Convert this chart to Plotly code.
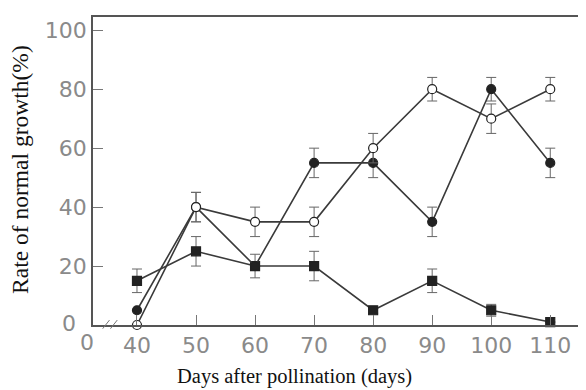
import plotly.graph_objects as go

days = [40, 50, 60, 70, 80, 90, 100, 110]
filled_circle = [5, 40, 20, 55, 55, 35, 80, 55]
filled_circle_err = [0, 5, 4, 5, 5, 5, 4, 5]
open_circle = [0, 40, 35, 35, 60, 80, 70, 80]
open_circle_err = [0, 5, 5, 5, 5, 4, 5, 4]
filled_square = [15, 25, 20, 20, 5, 15, 5, 1]
filled_square_err = [4, 5, 0, 5, 1, 4, 2, 0]

y_ticks = [0, 20, 40, 60, 80, 100]
y_tick_text = ["", "20", "40", "60", "80", "100"]
x_ticks = [40, 50, 60, 70, 80, 90, 100, 110]

line_col = "#3a3a3a"
err_col = "#666666"

fig = go.Figure()

def add(y, err, symbol, fill):
    fig.add_trace(go.Scatter(
        x=days, y=y, mode="lines+markers",
        line=dict(color=line_col, width=1.6),
        marker=dict(symbol=symbol, size=9, color=fill,
                    line=dict(color="#222222", width=1.2)),
        error_y=dict(type="data", array=err, visible=True,
                     color=err_col, thickness=1, width=5),
        showlegend=False, cliponaxis=False))

add(filled_square, filled_square_err, "square", "#222222")
add(filled_circle, filled_circle_err, "circle", "#222222")
add(open_circle, open_circle_err, "circle", "white")

tickfont = dict(family="DejaVu Sans", size=22, color="#8a8a8a")
xtitle_font = dict(family="Liberation Serif", size=20.5, color="#111111")
ytitle_font = dict(family="Liberation Serif", size=23.5, color="#111111")

# page body adds an 8px offset, so the figure is 8px smaller
fig.update_layout(
    width=578, height=382,
    margin=dict(l=85, r=8, t=9, b=65, autoexpand=False),
    paper_bgcolor="white", plot_bgcolor="white",
    xaxis=dict(range=[32.55, 114.7], tickvals=x_ticks,
               ticktext=[str(v) for v in x_ticks],
               ticks="inside", ticklen=10, tickcolor="#777777",
               showline=True, linecolor="#555555", linewidth=1.5,
               mirror=True, showgrid=False, zeroline=False,
               tickfont=tickfont, automargin=False),
    yaxis=dict(range=[0, 104.5], tickvals=y_ticks, ticktext=y_tick_text,
               ticks="inside", ticklen=10, tickcolor="#777777",
               showline=True, linecolor="#555555", linewidth=1.5,
               mirror=True, showgrid=False, zeroline=False,
               tickfont=tickfont, automargin=False),
)

fig.add_annotation(xref="paper", yref="paper", x=0.415, y=-0.166,
                   text="Days after pollination (days)", showarrow=False,
                   font=xtitle_font, xanchor="center", yanchor="middle")
fig.add_annotation(xref="paper", yref="paper", x=-0.151, y=0.506,
                   text="Rate of normal growth(%)", showarrow=False,
                   font=ytitle_font, textangle=-90,
                   xanchor="center", yanchor="middle")

# y-axis "0" label, set a little left of the other labels
fig.add_annotation(xref="paper", yref="paper", x=-0.0495, y=0.005,
                   xanchor="center", yanchor="middle",
                   text="0", showarrow=False, font=tickfont)
# x-axis "0" at the broken axis origin
fig.add_annotation(xref="paper", yref="paper", x=-0.013, y=0,
                   xanchor="center", yanchor="top", yshift=-3,
                   text="0", showarrow=False, font=tickfont)
# axis break marks
for dx in (0.0, 0.016):
    fig.add_shape(type="line", xref="paper", yref="paper",
                  x0=0.02 + dx, y0=-0.012, x1=0.034 + dx, y1=0.016,
                  line=dict(color="#777777", width=1))

fig.write_html("out.html")
